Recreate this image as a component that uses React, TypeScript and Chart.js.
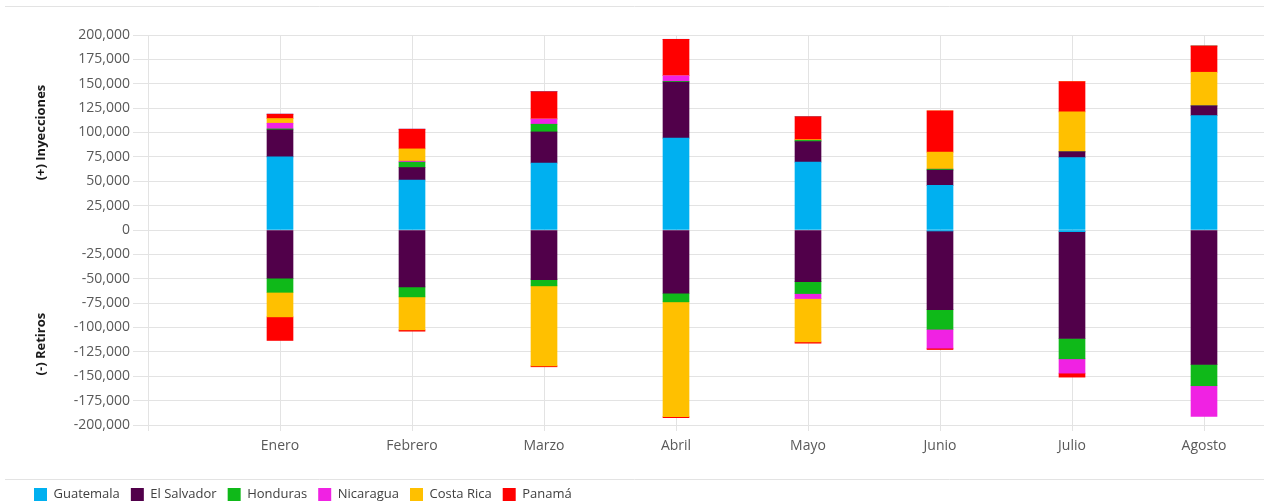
import { useEffect, useRef } from 'react';
import { Chart, registerables } from 'chart.js';

Chart.register(...registerables);

const FONT = '"Open Sans", "Noto Sans", sans-serif';

const months = ['Enero', 'Febrero', 'Marzo', 'Abril', 'Mayo', 'Junio', 'Julio', 'Agosto'];
const countries = ['Guatemala', 'El Salvador', 'Honduras', 'Nicaragua', 'Costa Rica', 'Panamá'];
const countryColors = ['#00B0F0', '#51004A', '#0FB919', '#F022E3', '#FFC000', '#FF0000'];

// (+) Inyecciones por país, enero a agosto
const guatemalaIn = [75000, 51200, 68600, 94200, 69600, 45700, 74300, 117300];
const elSalvadorIn = [27700, 12900, 32000, 57600, 21100, 15700, 5900, 10000];
const hondurasIn = [1000, 5500, 7900, 600, 1200, 1000, 0, 0];
const nicaraguaIn = [5800, 1000, 5400, 5900, 0, 0, 0, 0];
const costaRicaIn = [4800, 12600, 0, 0, 800, 17500, 40900, 34500];
const panamaIn = [4500, 20200, 28000, 37300, 23600, 42200, 31100, 26900];

// (-) Retiros por país, enero a agosto
const guatemalaOut = [0, 0, 0, 0, 0, -1000, -1700, 0];
const elSalvadorOut = [-49500, -58400, -50900, -64900, -52900, -80600, -109600, -137900];
const hondurasOut = [-14400, -10200, -6400, -8800, -12300, -20200, -20800, -21800];
const nicaraguaOut = [0, 0, 0, 0, -5100, -19400, -14700, -31500];
const costaRicaOut = [-25200, -33800, -82000, -117800, -44400, 0, 0, 0];
const panamaOut = [-24200, -1400, -1000, -1000, -1400, -1400, -4100, 0];

// Eje de valores
const yMin = -200000;
const yMax = 200000;
const yStep = 25000;

const injections = [guatemalaIn, elSalvadorIn, hondurasIn, nicaraguaIn, costaRicaIn, panamaIn];
const withdrawals = [guatemalaOut, elSalvadorOut, hondurasOut, nicaraguaOut, costaRicaOut, panamaOut];

const toPoints = (values: number[]) => values.map((v, i) => ({ x: i + 1, y: v }));

// Títulos del eje vertical y líneas separadoras del marco
const framePlugin = {
  id: 'frame',
  afterDraw(chart: any) {
    const { ctx, width, chartArea, legend } = chart;
    const y = chart.scales.y;
    ctx.save();
    ctx.strokeStyle = '#e3e3e3';
    ctx.lineWidth = 1;
    ctx.beginPath();
    ctx.moveTo(5, chartArea.top - 28.5);
    ctx.lineTo(width, chartArea.top - 28.5);
    ctx.moveTo(5, legend.top + 2.5);
    ctx.lineTo(width, legend.top + 2.5);
    ctx.stroke();

    ctx.fillStyle = '#1a1a1a';
    ctx.font = `bold 13px ${FONT}`;
    ctx.textAlign = 'center';
    ctx.textBaseline = 'middle';
    const titles: [string, number][] = [
      ['(+) Inyecciones', 100000],
      ['(-) Retiros', -117000],
    ];
    for (const [text, v] of titles) {
      ctx.save();
      ctx.translate(41, y.getPixelForValue(v));
      ctx.rotate(-Math.PI / 2);
      ctx.fillText(text, 0, 0);
      ctx.restore();
    }
    ctx.restore();
  },
};

export default function App() {
  const canvasRef = useRef<HTMLCanvasElement | null>(null);

  useEffect(() => {
    document.body.style.margin = '0';
    const canvas = canvasRef.current;
    if (!canvas) return;

    const datasets = [
      ...injections.map((vals, i) => ({
        label: countries[i],
        data: toPoints(vals),
        backgroundColor: countryColors[i],
      })),
      ...withdrawals.map((vals, i) => ({
        label: countries[i],
        data: toPoints(vals),
        backgroundColor: countryColors[i],
      })),
    ];

    const chart = new Chart(canvas, {
      type: 'bar',
      data: { datasets },
      plugins: [framePlugin],
      options: {
        animation: false,
        responsive: true,
        maintainAspectRatio: false,
        layout: { padding: { left: 23, top: 35, right: 0, bottom: -7 } },
        datasets: { bar: { barThickness: 26, borderWidth: 0 } },
        scales: {
          x: {
            type: 'linear',
            stacked: true,
            min: 0,
            max: 8.4545,
            offset: false,
            grid: { offset: false, color: '#e3e3e3', tickLength: 6, tickColor: '#e3e3e3' },
            border: { display: false },
            ticks: {
              stepSize: 1,
              includeBounds: false,
              autoSkip: false,
              maxRotation: 0,
              padding: 7,
              color: '#595959',
              font: { family: FONT, size: 14 },
              callback: (v: any) => {
                const n = Number(v);
                return Number.isInteger(n) && n >= 1 && n <= months.length ? months[n - 1] : '';
              },
            },
            afterFit: (s: any) => {
              s.height = 52;
            },
          },
          y: {
            stacked: true,
            min: yMin,
            max: yMax,
            grid: { color: '#e3e3e3', tickLength: 15, tickColor: '#e3e3e3' },
            border: { display: false },
            ticks: {
              stepSize: yStep,
              padding: 3,
              color: '#595959',
              font: { family: FONT, size: 14 },
              callback: (v: any) => Number(v).toLocaleString('en-US'),
            },
            afterFit: (s: any) => {
              s.width = 125;
            },
          },
        },
        plugins: {
          legend: {
            position: 'bottom',
            align: 'start',
            labels: {
              boxWidth: 13,
              boxHeight: 13,
              padding: 11,
              color: '#404040',
              font: { family: FONT, size: 13 },
              filter: (item: any) => item.datasetIndex < countries.length,
            },
          },
          tooltip: { enabled: false },
        },
      } as any,
    });

    return () => chart.destroy();
  }, []);

  return (
    <div style={{ position: 'relative', width: 1264, height: 504 }}>
      <canvas ref={canvasRef} />
    </div>
  );
}
